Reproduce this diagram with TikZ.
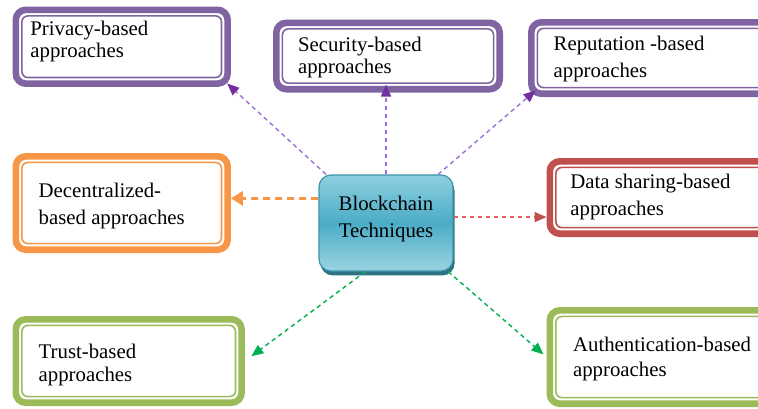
\documentclass[tikz,border=0pt]{standalone}
\usepackage{fontspec}
\setmainfont{Liberation Serif}
\usetikzlibrary{arrows.meta}
\definecolor{boxpurple}{HTML}{8064A2}
\definecolor{boxorange}{HTML}{F79646}
\definecolor{boxred}{HTML}{C0504D}
\definecolor{boxgreen}{HTML}{9BBB59}
\definecolor{linkpurple}{HTML}{9E6FD6}
\definecolor{tippurple}{HTML}{7030A0}
\definecolor{linkred}{HTML}{E0605C}
\definecolor{linkgreen}{HTML}{00B050}
\definecolor{hubtop}{HTML}{8FD0E1}
\definecolor{hubmid}{HTML}{4BACC6}
\definecolor{hubbottom}{HTML}{9AD4E3}
\definecolor{hubedge}{HTML}{3C93AB}
\definecolor{hubshadow}{HTML}{2E7385}
\tikzset{
  approach/.style={draw=#1, line width=3.3pt, rounded corners=5pt, fill=white, inner sep=0pt},
  inframe/.style={draw=#1, line width=0.8pt, rounded corners=3pt},
  txt/.style={anchor=base west, align=left, inner sep=0pt, font=\fontsize{10.4}{#1}\selectfont},
  txt/.default=13pt,
  link/.style={draw=#1, dash pattern=on 2.2pt off 1.8pt, line width=0.7pt, -{Triangle[length=6pt,width=5pt]}},
}
\begin{document}
\begin{tikzpicture}[x=0.5pt,y=-0.5pt]
\useasboundingbox (0,0) rectangle (758,408);
\clip (0,0) rectangle (758,408);
% boxes
\node[approach=boxpurple, minimum width=105.9pt, minimum height=36.9pt] (privacy) at (121.7,46.7) {};
\node[approach=boxpurple, minimum width=111.7pt, minimum height=33.2pt] (security) at (388,56) {};
\node[approach=boxpurple, minimum width=120.2pt, minimum height=35.7pt] (reputation) at (651.5,58) {};
\node[approach=boxred, minimum width=110.9pt, minimum height=36.2pt] (data) at (660.7,197.5) {};
\node[approach=boxorange, minimum width=105.9pt, minimum height=46.7pt] (decentral) at (121.7,203) {};
\node[approach=boxgreen, minimum width=112.9pt, minimum height=41.7pt] (trust) at (128.7,361) {};
\node[approach=boxgreen, minimum width=110.9pt, minimum height=46.7pt] (auth) at (660.7,357) {};
\foreach \n/\c in {privacy/boxpurple,security/boxpurple,reputation/boxpurple,data/boxred,decentral/boxorange,trust/boxgreen,auth/boxgreen}
  \draw[inframe=\c] ([shift={(4.7pt,4.7pt)}]\n.south west) rectangle ([shift={(-4.7pt,-4.7pt)}]\n.north east);
% texts (anchored on the last line)
\node[txt=11pt] (privacytext) at (30,57.3) {Privacy-based\\approaches};
\node[txt=10.8pt] (securitytext) at (297.7,73.3) {Security-based\\approaches};
\node[txt=13.5pt] (reputationtext) at (553.3,77.3) {Reputation -based\\approaches};
\node[txt=13.3pt] (datatext) at (570,215) {Data sharing-based\\approaches};
\node[txt=13.2pt] (decentraltext) at (38.3,224) {Decentralized-\\based approaches};
\node[txt=11.7pt] (trusttext) at (38.3,381.7) {Trust-based\\approaches};
\node[txt=12.5pt] (authtext) at (572.7,376.7) {Authentication-based\\approaches};
% centre
\node[draw=hubedge, line width=0.6pt, rounded corners=6pt, minimum width=67pt, minimum height=48pt,
  top color=hubtop, bottom color=hubbottom, middle color=hubmid, align=center,
  font=\fontsize{10.4}{13.5pt}\selectfont, text depth=6.3pt,
  preaction={fill=hubshadow, transform canvas={xshift=0.8pt,yshift=-2.2pt}}] (hub) at (386,223) {Blockchain\\Techniques};
% links
\draw[link=linkpurple, -{Triangle[length=6pt,width=5pt,color=tippurple]}, shorten >=-2.5pt] (hub.141) -- (privacy.south east);
\draw[link=linkpurple, -{Triangle[length=6pt,width=5pt,color=tippurple]}, shorten >=-4pt] (hub.north) -- (hub.north |- security.south);
\draw[link=linkpurple, -{Triangle[length=6pt,width=5pt,color=tippurple]}, shorten >=-5pt] (hub.43) -- (reputation.south west);
\draw[link=linkred, -{Triangle[length=6pt,width=5pt,color=boxred]}] (hub.5) -- (hub.5 -| data.west);
\draw[link=boxorange, line width=1.5pt, dash pattern=on 3.5pt off 2.5pt, -{Triangle[length=6pt,width=7pt]}] (hub.160) -- (hub.160 -| decentral.east);
\draw[link=linkgreen, shorten >=4pt] (hub.247) -- (trust.east);
\draw[link=linkgreen, shorten >=2pt] (hub.322) -- (auth.west);
\end{tikzpicture}
\end{document}
